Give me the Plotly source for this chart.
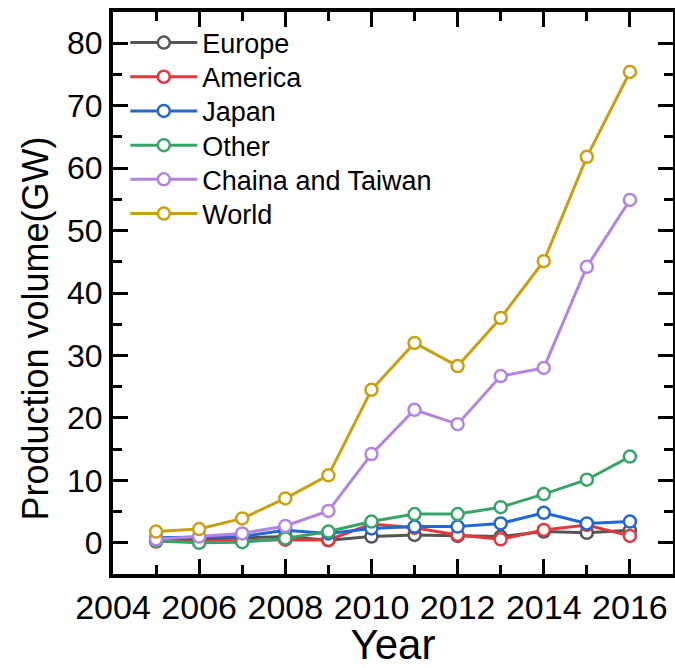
import plotly.graph_objects as go

# Annual photovoltaic production by region (GW)
years = [2005, 2006, 2007, 2008, 2009, 2010, 2011, 2012, 2013, 2014, 2015, 2016]

europe = [0.4, 0.6, 0.9, 1.0, 0.4, 1.0, 1.25, 1.1, 1.0, 1.8, 1.6, 2.0]
america = [0.2, 0.2, 0.3, 0.5, 0.45, 3.0, 2.4, 1.25, 0.55, 2.05, 2.85, 1.1]
japan = [0.8, 0.9, 1.0, 2.0, 1.5, 2.3, 2.6, 2.6, 3.1, 4.8, 3.1, 3.4]
other = [0.3, 0.0, 0.1, 0.7, 1.8, 3.4, 4.6, 4.6, 5.7, 7.8, 10.1, 13.8]
china_taiwan = [0.55, 1.0, 1.5, 2.7, 5.1, 14.2, 21.3, 19.0, 26.7, 28.0, 44.2, 54.9]
world = [1.8, 2.2, 3.9, 7.1, 10.8, 24.5, 32.0, 28.3, 36.0, 45.1, 61.8, 75.4]

series_names = ["Europe", "America", "Japan", "Other", "Chaina and Taiwan", "World"]
series_values = [europe, america, japan, other, china_taiwan, world]
series_colors = ["#555555", "#e0393e", "#2268d0", "#3aa26b", "#b384e0", "#c9a012"]

x_tick_vals = [2004, 2006, 2008, 2010, 2012, 2014, 2016]
y_tick_vals = [0, 10, 20, 30, 40, 50, 60, 70, 80]

FONT = "Arial, Liberation Sans, sans-serif"

# plot-area geometry in pixels (used to place the stacked legend rows)
PLOT_TOP, PLOT_BOTTOM = 12, 574
LEGEND_ROW0, LEGEND_ROW_STEP = 43, 34.2

fig = go.Figure()
legend_layouts = {}
for i, (name, vals, color) in enumerate(zip(series_names, series_values, series_colors)):
    legend_id = "legend" if i == 0 else f"legend{i + 1}"
    fig.add_trace(go.Scatter(
        x=years, y=vals, name=name, mode="lines+markers",
        line=dict(color=color, width=3),
        marker=dict(symbol="circle", size=12, color="white",
                    line=dict(color=color, width=2.5)),
        legend=legend_id,
    ))
    row_y = LEGEND_ROW0 + i * LEGEND_ROW_STEP
    legend_layouts[legend_id] = dict(
        x=0.022, y=(PLOT_BOTTOM - row_y) / (PLOT_BOTTOM - PLOT_TOP),
        xanchor="left", yanchor="middle",
        bgcolor="rgba(0,0,0,0)", borderwidth=0,
        font=dict(family=FONT, size=27, color="black"),
        itemwidth=67,
    )

axis_common = dict(
    showline=True, linecolor="black", linewidth=4, mirror="allticks",
    ticks="inside", tickcolor="black", tickwidth=3, ticklen=15,
    showgrid=False, zeroline=False, automargin=False, tickangle=0,
    minor=dict(ticks="inside", ticklen=9, tickwidth=3, tickcolor="black", showgrid=False),
)

fig.update_xaxes(
    range=[2004, 2017], tickvals=x_tick_vals, ticktext=[str(v) for v in x_tick_vals],
    minor_dtick=1, minor_tick0=2005,
    tickfont=dict(family=FONT, size=34, color="black"),
    title=dict(text="Year", font=dict(family=FONT, size=42, color="black"), standoff=8),
    **axis_common,
)
fig.update_yaxes(
    range=[-5, 85], tickvals=y_tick_vals, minor_dtick=5, minor_tick0=-5,
    tickfont=dict(family=FONT, size=32, color="black"),
    **axis_common,
)

fig.add_annotation(
    text="Production volume(GW)", xref="paper", yref="paper",
    x=-0.139, y=0.437, xanchor="center", yanchor="middle",
    textangle=-90, showarrow=False,
    font=dict(family=FONT, size=36, color="black"),
)

fig.update_layout(
    width=675, height=668,
    margin=dict(l=113, r=2, t=PLOT_TOP, b=668 - PLOT_BOTTOM),
    paper_bgcolor="white", plot_bgcolor="white",
    showlegend=True,
    **legend_layouts,
)

fig.write_html("out.html")
